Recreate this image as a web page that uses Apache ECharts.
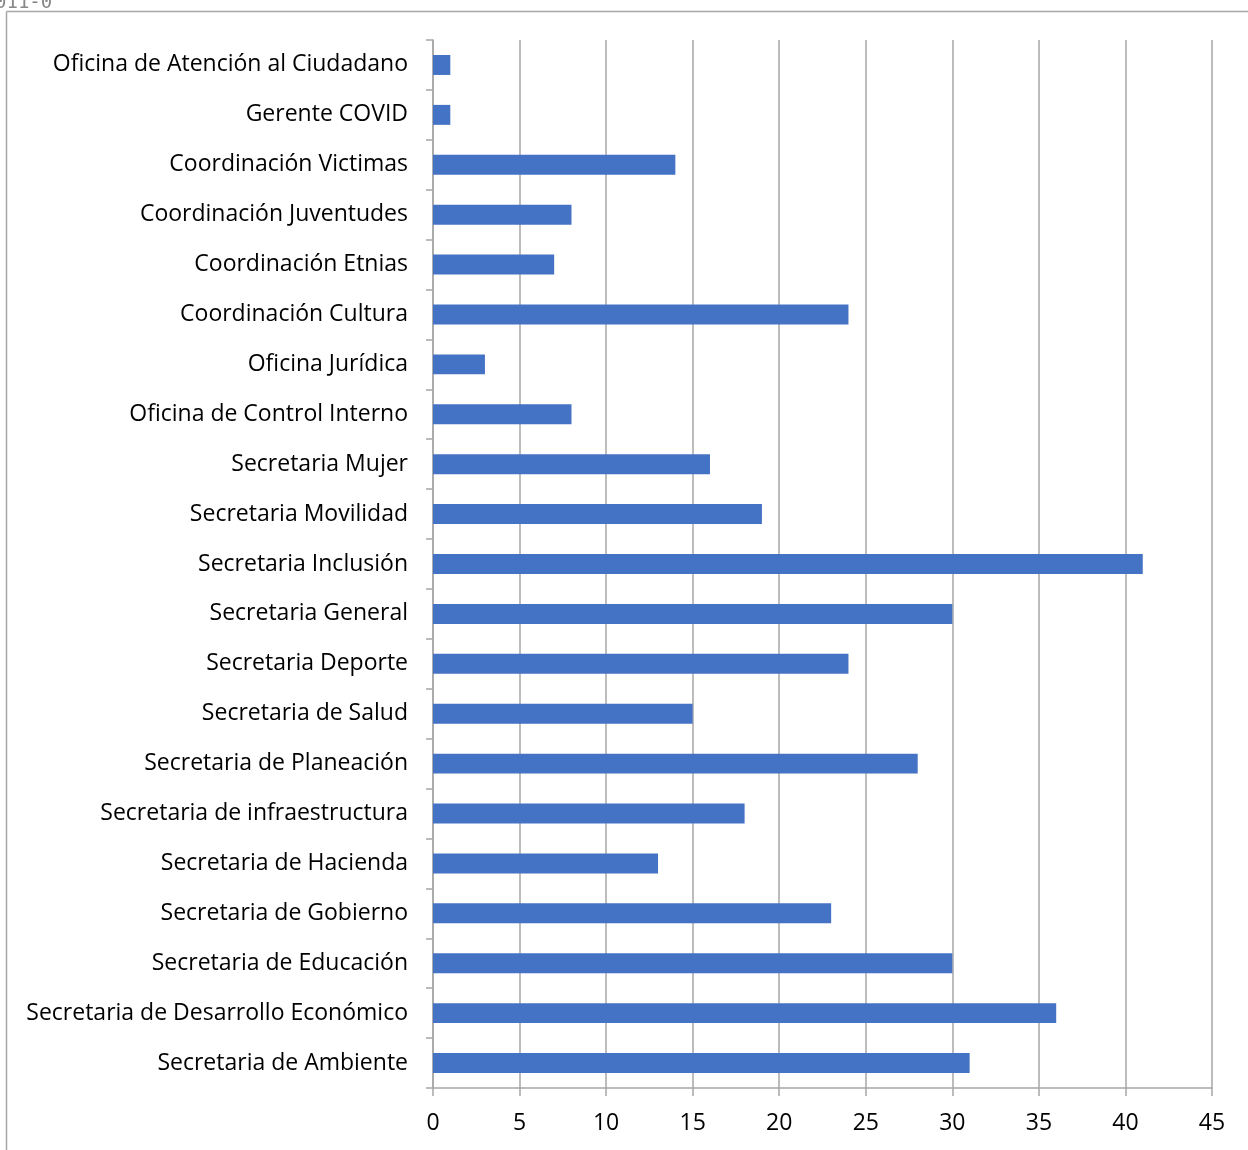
<!DOCTYPE html>
<html>
<head>
<meta charset="utf-8">
<script src="https://cdn.jsdelivr.net/npm/echarts@6/dist/echarts.min.js"></script>
<style>
html,body{margin:0;padding:0;background:#fff;}
#chart{width:1248px;height:1150px;}
</style>
</head>
<body>
<div id="chart"></div>
<script>
var categories = [
  "Oficina de Atención al Ciudadano",
  "Gerente COVID",
  "Coordinación Victimas",
  "Coordinación Juventudes",
  "Coordinación Etnias",
  "Coordinación Cultura",
  "Oficina Jurídica",
  "Oficina de Control Interno",
  "Secretaria Mujer",
  "Secretaria Movilidad",
  "Secretaria Inclusión",
  "Secretaria General",
  "Secretaria Deporte",
  "Secretaria de Salud",
  "Secretaria de Planeación",
  "Secretaria de infraestructura",
  "Secretaria de Hacienda",
  "Secretaria de Gobierno",
  "Secretaria de Educación",
  "Secretaria de Desarrollo Económico",
  "Secretaria de Ambiente"
];
var values = [1, 1, 14, 8, 7, 24, 3, 8, 16, 19, 41, 30, 24, 15, 28, 18, 13, 23, 30, 36, 31];
var xTicks = [0, 5, 10, 15, 20, 25, 30, 35, 40, 45];

var chart = echarts.init(document.getElementById('chart'));
var font = '"Open Sans", sans-serif';
chart.setOption({
  animation: false,
  backgroundColor: '#fff',
  graphic: [
    { type: 'line', shape: { x1: 6.5, y1: 11.5, x2: 1248, y2: 11.5 }, style: { stroke: '#a6a6a6', lineWidth: 1.5 } },
    { type: 'line', shape: { x1: 6.5, y1: 11.5, x2: 6.5, y2: 1150 }, style: { stroke: '#a6a6a6', lineWidth: 1.5 } },
    { type: 'text', left: -5, top: -6, style: { text: '011-0', font: '19px "DejaVu Sans Mono", monospace', fill: '#888' } }
  ],
  grid: { left: 433, right: 36, top: 40, bottom: 62, containLabel: false },
  xAxis: {
    type: 'value',
    min: 0, max: 45, interval: 5,
    axisLine: { show: true, lineStyle: { color: '#a6a6a6', width: 1.5 } },
    axisTick: { show: true, length: 8, lineStyle: { color: '#a6a6a6', width: 1.5 } },
    axisLabel: {
      color: '#000', fontSize: 23, fontFamily: font, margin: 24,
      formatter: function (v) { return xTicks.indexOf(v) >= 0 ? String(v) : ''; }
    },
    splitLine: { show: true, lineStyle: { color: '#a6a6a6', width: 1.5 } }
  },
  yAxis: {
    type: 'category',
    inverse: true,
    data: categories,
    axisLine: { show: true, onZero: false, lineStyle: { color: '#a6a6a6', width: 1.5 } },
    axisTick: { show: true, length: 7, alignWithLabel: false, lineStyle: { color: '#a6a6a6', width: 1.5 } },
    axisLabel: { color: '#000', fontSize: 23, fontFamily: font, margin: 25, padding: [3, 0, 0, 0] },
    splitLine: { show: false }
  },
  series: [{
    type: 'bar',
    data: values,
    barWidth: '40%',
    itemStyle: { color: '#4472c4' }
  }]
});
</script>
</body>
</html>
